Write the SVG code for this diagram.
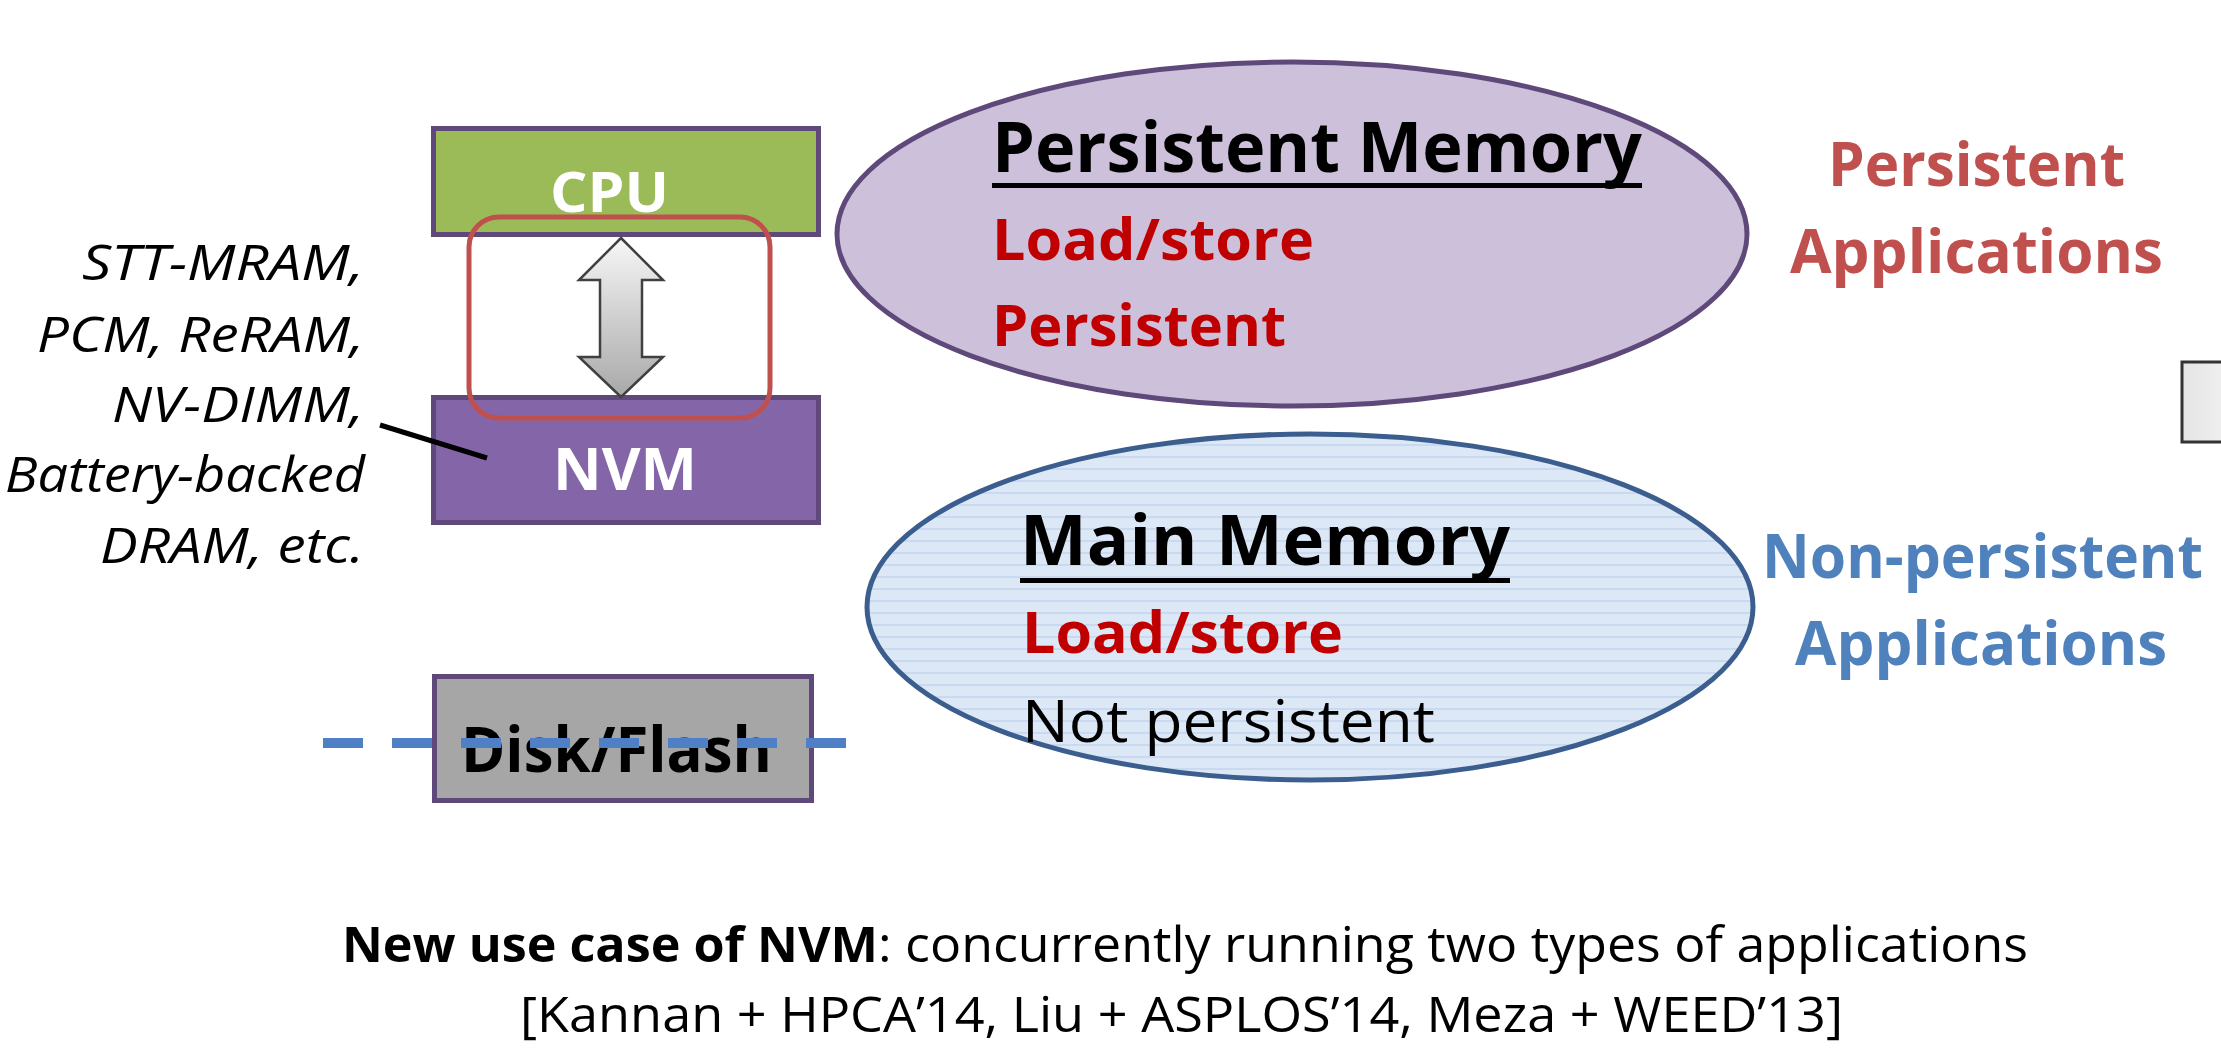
<svg xmlns="http://www.w3.org/2000/svg" width="2221" height="1054" viewBox="0 0 2221 1054">
<style>
  text { font-family: "Open Sans", "Noto Sans", "Liberation Sans", sans-serif; }
  .b { font-weight: bold; }
  .it { font-style: italic; font-size: 50px; fill: #000; }
  .boxlbl { font-weight: bold; fill: #fff; }
  .red { fill: #C00000; font-weight: bold; }
  .blk { fill: #000; }
  .box { stroke: #5F497A; stroke-width: 5; }
</style>
<defs>
  <pattern id="stripes" width="20" height="12" patternUnits="userSpaceOnUse">
    <rect width="20" height="12" fill="#DDE8F7"/>
    <rect y="0" width="20" height="2" fill="#C9DAF0"/>
  </pattern>
  <linearGradient id="arrowGrad" x1="0" y1="0" x2="0" y2="1">
    <stop offset="0" stop-color="#F7F7F7"/>
    <stop offset="1" stop-color="#A8A8A8"/>
  </linearGradient>
  <linearGradient id="grayBox" x1="0" y1="0" x2="1" y2="0">
    <stop offset="0" stop-color="#E4E4E4"/>
    <stop offset="1" stop-color="#F4F4F4"/>
  </linearGradient>
</defs>
<rect width="2221" height="1054" fill="#fff"/>

<g id="persistent-memory">
  <ellipse cx="1292" cy="234" rx="455" ry="172" fill="#CCC0DA" stroke="#5F497A" stroke-width="5"/>
  <text class="b blk" x="992" y="172" font-size="69" textLength="650" lengthAdjust="spacingAndGlyphs">Persistent Memory</text>
  <rect x="992" y="183" width="650" height="5" fill="#000"/>
  <text class="red" x="992" y="260" font-size="57" textLength="322" lengthAdjust="spacingAndGlyphs">Load/store</text>
  <text class="red" x="992" y="346" font-size="57" textLength="294" lengthAdjust="spacingAndGlyphs">Persistent</text>
</g>

<g id="main-memory">
  <ellipse cx="1310" cy="607" rx="443" ry="173" fill="url(#stripes)" stroke="#3B5E8E" stroke-width="5"/>
  <text class="b blk" x="1020" y="565" font-size="70" textLength="490" lengthAdjust="spacingAndGlyphs">Main Memory</text>
  <rect x="1020" y="578" width="490" height="5" fill="#000"/>
  <text class="red" x="1022" y="653" font-size="57" textLength="321" lengthAdjust="spacingAndGlyphs">Load/store</text>
  <text class="blk" x="1022" y="742" font-size="59" textLength="413" lengthAdjust="spacingAndGlyphs">Not persistent</text>
</g>

<g id="persistent-apps">
  <text class="b" fill="#C0504D" x="1828" y="186" font-size="61" textLength="297" lengthAdjust="spacingAndGlyphs">Persistent</text>
  <text class="b" fill="#C0504D" x="1790" y="273" font-size="61" textLength="373" lengthAdjust="spacingAndGlyphs">Applications</text>
</g>

<g id="nonpersistent-apps">
  <text class="b" fill="#4F81BD" x="1762" y="578" font-size="61" textLength="441" lengthAdjust="spacingAndGlyphs">Non-persistent</text>
  <text class="b" fill="#4F81BD" x="1795" y="665" font-size="61" textLength="372" lengthAdjust="spacingAndGlyphs">Applications</text>
</g>

<g id="edge-box">
  <rect x="2182" y="362" width="60" height="80" fill="url(#grayBox)" stroke="#333" stroke-width="3"/>
</g>

<g id="cpu">
  <rect class="box" x="433.5" y="128.5" width="385" height="106" fill="#9BBB59"/>
  <text class="boxlbl" x="550" y="212" font-size="56" textLength="119" lengthAdjust="spacingAndGlyphs">CPU</text>
</g>

<g id="nvm">
  <rect class="box" x="433.5" y="397.5" width="385" height="125" fill="#8466A8"/>
  <text class="boxlbl" x="553" y="490" font-size="59" textLength="144" lengthAdjust="spacingAndGlyphs">NVM</text>
</g>

<g id="disk-flash">
  <rect class="box" x="434.5" y="676.5" width="377" height="124" fill="#A6A6A6"/>
  <text class="b blk" x="461" y="772" font-size="63" textLength="311" lengthAdjust="spacingAndGlyphs">Disk/Flash</text>
</g>

<g id="nvm-types">
  <text class="it" x="82" y="280" textLength="282" lengthAdjust="spacingAndGlyphs">STT-MRAM,</text>
  <text class="it" x="37" y="352" textLength="327" lengthAdjust="spacingAndGlyphs">PCM, ReRAM,</text>
  <text class="it" x="112" y="422" textLength="252" lengthAdjust="spacingAndGlyphs">NV-DIMM,</text>
  <text class="it" x="5" y="492" textLength="360" lengthAdjust="spacingAndGlyphs">Battery-backed</text>
  <text class="it" x="100" y="563" textLength="264" lengthAdjust="spacingAndGlyphs">DRAM, etc.</text>
</g>

<g id="connectors">
  <rect id="nvm-highlight" x="469" y="217" width="301" height="201" rx="30" ry="30" fill="none" stroke="#C0504D" stroke-width="5"/>
  <polygon id="cpu-nvm-arrow" points="621,238 663,280 642,280 642,357 663,357 621,397 579,357 600,357 600,280 579,280" fill="url(#arrowGrad)" stroke="#404040" stroke-width="2.5" stroke-linejoin="miter"/>
  <line id="types-pointer" x1="380" y1="425" x2="487" y2="458" stroke="#000" stroke-width="5"/>
  <line id="storage-divider" x1="323" y1="743" x2="850" y2="743" stroke="#4F7FC4" stroke-width="10" stroke-dasharray="40 29"/>
</g>

<g id="caption">
  <text class="b blk" x="342" y="962" font-size="49" textLength="536" lengthAdjust="spacingAndGlyphs">New use case of NVM</text>
  <text class="blk" x="878" y="962" font-size="49" textLength="1150" lengthAdjust="spacingAndGlyphs">: concurrently running two types of applications</text>
  <text class="blk" x="520" y="1032" font-size="49" textLength="1323" lengthAdjust="spacingAndGlyphs">[Kannan + HPCA’14, Liu + ASPLOS’14, Meza + WEED’13]</text>
</g>
</svg>
